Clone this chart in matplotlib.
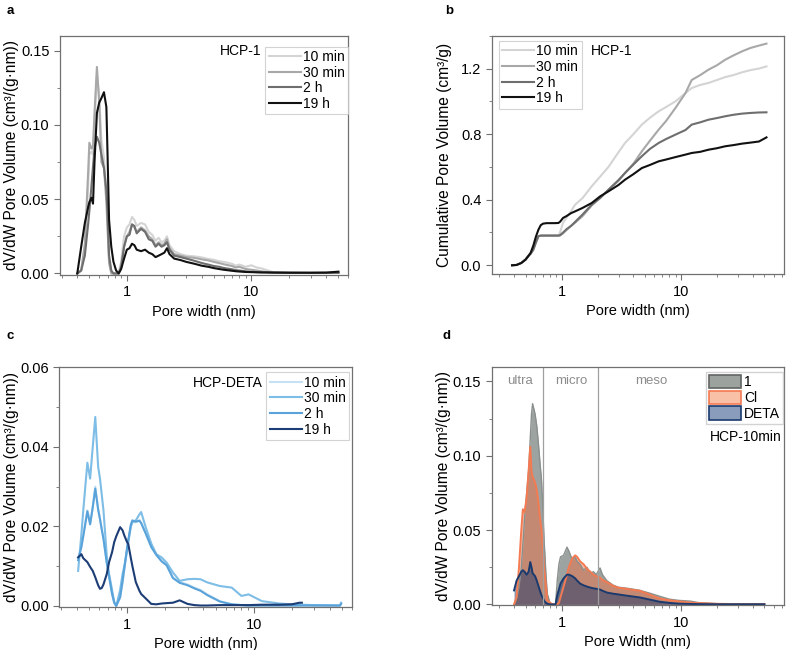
import numpy as np
import matplotlib
matplotlib.use("Agg")
import matplotlib.pyplot as plt
from matplotlib.ticker import LogLocator, NullFormatter, MultipleLocator

plt.rcParams['font.family'] = ['Liberation Sans', 'DejaVu Sans']
plt.rcParams['font.size'] = 10

# ---- panel a: HCP-1 pore size distribution ----
widths_a = [0.40, 0.43, 0.46, 0.49, 0.50, 0.52, 0.535, 0.55, 0.575, 0.60, 0.625, 0.655,
            0.685, 0.70, 0.72, 0.75, 0.78, 0.82, 0.86, 0.90, 0.95, 1.0, 1.05, 1.1, 1.15,
            1.2, 1.3, 1.4, 1.5, 1.6, 1.7, 1.8, 1.9, 2.0, 2.1, 2.2, 2.4, 2.7, 3.0, 3.5,
            4.0, 4.5, 5.0, 5.5, 6.0, 7.0, 7.5, 8.0, 9.0, 10, 11, 12, 13, 15, 20, 30, 40, 50]
a_10min = [0, 0.002, 0.016, 0.060, 0.080, 0.082, 0.080, 0.100, 0.134, 0.120, 0.090, 0.078,
           0.055, 0.035, 0.010, 0.001, 0, 0, 0, 0.008, 0.025, 0.031, 0.033, 0.038, 0.036,
           0.032, 0.034, 0.033, 0.028, 0.026, 0.022, 0.024, 0.021, 0.022, 0.025, 0.019,
           0.015, 0.013, 0.012, 0.0115, 0.0108, 0.0098, 0.0092, 0.0082, 0.0078, 0.0065,
           0.0052, 0.0060, 0.0045, 0.0055, 0.0040, 0.0035, 0.0025, 0.0008, 0.0005, 0.0004,
           0.0004, 0.0004]
a_30min = [0, 0.002, 0.020, 0.070, 0.088, 0.084, 0.086, 0.108, 0.139, 0.115, 0.075, 0.071,
           0.048, 0.030, 0.007, 0, 0, 0, 0, 0.006, 0.018, 0.025, 0.028, 0.033, 0.031,
           0.028, 0.031, 0.029, 0.025, 0.023, 0.019, 0.021, 0.019, 0.020, 0.023, 0.017,
           0.013, 0.012, 0.011, 0.0105, 0.0095, 0.0088, 0.0078, 0.0070, 0.0062, 0.0050,
           0.0040, 0.0045, 0.0030, 0.0025, 0.0020, 0.0015, 0.0010, 0.0007, 0.0005, 0.0004,
           0.0004, 0.0004]
a_2h = [0, 0.002, 0.012, 0.034, 0.042, 0.059, 0.072, 0.084, 0.092, 0.088, 0.080, 0.071,
        0.056, 0.040, 0.012, 0.002, 0, 0, 0, 0.004, 0.018, 0.025, 0.026, 0.033, 0.032,
        0.027, 0.030, 0.028, 0.023, 0.022, 0.018, 0.020, 0.018, 0.019, 0.021, 0.016,
        0.012, 0.011, 0.010, 0.0085, 0.0070, 0.0060, 0.0050, 0.0045, 0.0037, 0.0028,
        0.0022, 0.0020, 0.0014, 0.0011, 0.0009, 0.0008, 0.0007, 0.0006, 0.0005, 0.0004,
        0.0004, 0.0004]
a_19h = [0, 0.018, 0.034, 0.045, 0.048, 0.051, 0.047, 0.075, 0.108, 0.115, 0.118, 0.122,
         0.112, 0.080, 0.036, 0.018, 0.008, 0.002, 0, 0.003, 0.010, 0.016, 0.017, 0.020,
         0.019, 0.016, 0.015, 0.016, 0.014, 0.013, 0.011, 0.012, 0.013, 0.014, 0.017,
         0.013, 0.010, 0.009, 0.0078, 0.0065, 0.0052, 0.0045, 0.0036, 0.0030, 0.0025,
         0.0018, 0.0015, 0.0013, 0.0010, 0.0009, 0.0008, 0.0007, 0.0007, 0.0006, 0.0005,
         0.0005, 0.0006, 0.0012]

# ---- panel b: HCP-1 cumulative pore volume ----
widths_b = [0.385, 0.42, 0.46, 0.50, 0.525, 0.55, 0.58, 0.61, 0.64, 0.67, 0.70, 0.75, 0.80,
            0.87, 0.94, 0.97, 1.03, 1.1, 1.2, 1.3, 1.5, 1.79, 2.1, 2.47, 3.0, 3.4, 4.0, 4.7,
            5.5, 6.5, 7.5, 9.0, 10.9, 12.3, 14.5, 17, 20, 23.5, 27.5, 32.5, 38, 45, 52]
b_10min = [0, 0.003, 0.015, 0.037, 0.058, 0.075, 0.100, 0.145, 0.178, 0.182, 0.182, 0.182,
           0.182, 0.183, 0.183, 0.200, 0.260, 0.290, 0.330, 0.370, 0.410, 0.482, 0.540,
           0.600, 0.690, 0.746, 0.800, 0.858, 0.900, 0.939, 0.965, 1.000, 1.050, 1.081,
           1.100, 1.112, 1.130, 1.148, 1.160, 1.177, 1.190, 1.200, 1.213]
b_30min = [0, 0.002, 0.014, 0.035, 0.055, 0.070, 0.095, 0.140, 0.177, 0.181, 0.181, 0.181,
           0.181, 0.181, 0.181, 0.182, 0.195, 0.215, 0.240, 0.260, 0.300, 0.365, 0.410,
           0.460, 0.515, 0.563, 0.620, 0.695, 0.760, 0.827, 0.880, 0.960, 1.050, 1.130,
           1.160, 1.193, 1.220, 1.254, 1.280, 1.305, 1.325, 1.340, 1.352]
b_2h = [0, 0.002, 0.014, 0.035, 0.055, 0.070, 0.095, 0.140, 0.177, 0.181, 0.181, 0.181,
        0.181, 0.181, 0.181, 0.183, 0.200, 0.220, 0.240, 0.265, 0.310, 0.370, 0.410, 0.461,
        0.520, 0.563, 0.615, 0.665, 0.710, 0.746, 0.770, 0.797, 0.825, 0.858, 0.872,
        0.888, 0.898, 0.909, 0.918, 0.925, 0.929, 0.932, 0.933]
b_19h = [0, 0.002, 0.014, 0.035, 0.055, 0.075, 0.120, 0.175, 0.217, 0.245, 0.254, 0.257,
         0.257, 0.257, 0.258, 0.265, 0.289, 0.300, 0.318, 0.329, 0.350, 0.380, 0.420,
         0.451, 0.490, 0.522, 0.556, 0.593, 0.612, 0.634, 0.645, 0.660, 0.675, 0.685,
         0.692, 0.705, 0.714, 0.726, 0.733, 0.742, 0.748, 0.755, 0.780]

# ---- panel c: HCP-DETA pore size distribution ----
widths_c = [0.41, 0.435, 0.45, 0.485, 0.51, 0.535, 0.56, 0.59, 0.61, 0.63, 0.65, 0.69, 0.72,
            0.76, 0.79, 0.82, 0.88, 0.92, 0.95, 1.0, 1.02, 1.07, 1.1, 1.17, 1.25, 1.29,
            1.41, 1.55, 1.7, 1.87, 2.05, 2.3, 2.6, 3.0, 3.4, 3.8, 4.3, 5.4, 6.7, 8.0, 9.1,
            11.6, 16, 20, 23, 24, 30, 48, 49]
c_10min = [0.012, 0.015, 0.0177, 0.024, 0.0207, 0.025, 0.030, 0.0245, 0.022, 0.0194, 0.017,
           0.011, 0.0075, 0.0032, 0.001, 0, 0.002, 0.0058, 0.009, 0.0143, 0.016, 0.020,
           0.0212, 0.021, 0.0216, 0.021, 0.0182, 0.015, 0.013, 0.0115, 0.0105, 0.0071,
           0.0060, 0.0054, 0.0046, 0.0040, 0.0029, 0.0012, 0.0004, 0.0002, 0.0001, 0.0001,
           0.0001, 0.0001, 0.0001, 0.0001, 0.0001, 0.0001, 0.0006]
c_30min = [0.0088, 0.018, 0.024, 0.036, 0.032, 0.040, 0.0475, 0.035, 0.032, 0.028, 0.024,
           0.0126, 0.008, 0.004, 0.001, 0, 0.004, 0.008, 0.010, 0.014, 0.016, 0.020, 0.021,
           0.0215, 0.023, 0.0236, 0.0195, 0.0157, 0.013, 0.0122, 0.0109, 0.0084, 0.0063,
           0.0067, 0.0068, 0.0067, 0.0059, 0.0050, 0.0046, 0.0025, 0.0029, 0.0012, 0.0006,
           0.0004, 0.0003, 0.0003, 0.0002, 0.0001, 0.0008]
c_2h = [0.0115, 0.0148, 0.0175, 0.0238, 0.0205, 0.0248, 0.0295, 0.0242, 0.0218, 0.0192,
        0.0168, 0.0108, 0.0073, 0.0030, 0.0008, 0, 0.0022, 0.0062, 0.0095, 0.0148, 0.0165,
        0.0205, 0.0215, 0.0212, 0.0214, 0.0208, 0.0180, 0.0148, 0.0128, 0.0112, 0.0102,
        0.0070, 0.0058, 0.0052, 0.0044, 0.0038, 0.0027, 0.0011, 0.0004, 0.0002, 0.0001,
        0.0001, 0.0001, 0.0001, 0.0001, 0.0001, 0.0001, 0.0001, 0.0005]
c_19h = [0.0122, 0.013, 0.012, 0.011, 0.0098, 0.0088, 0.0072, 0.0052, 0.0043, 0.0045,
         0.0054, 0.008, 0.011, 0.0135, 0.016, 0.0175, 0.0198, 0.019, 0.0177, 0.016, 0.0156,
         0.012, 0.010, 0.006, 0.0038, 0.003, 0.0018, 0.0005, 0.0004, 0.0006, 0.0007,
         0.0008, 0.0014, 0.0005, 0.0002, 0.0001, 0.0001, 0.0002, 0.0002, 0.0002, 0.0002,
         0.0003, 0.0003, 0.0004, 0.0008, 0.0008, np.nan, np.nan, np.nan]

# ---- panel d: HCP-10min comparison ----
widths_d = [0.40, 0.42, 0.44, 0.46, 0.474, 0.49, 0.51, 0.53, 0.547, 0.56, 0.572, 0.60, 0.62,
            0.637, 0.66, 0.68, 0.70, 0.714, 0.74, 0.76, 0.80, 0.85, 0.89, 0.92, 0.95, 0.98,
            1.04, 1.11, 1.15, 1.23, 1.30, 1.35, 1.43, 1.53, 1.63, 1.74, 1.85, 1.95, 2.1,
            2.2, 2.39, 2.7, 3.0, 3.3, 3.8, 4.5, 5.5, 6.6, 8.0, 9.6, 12, 14, 20, 30, 50]
d_1 = [0, 0.004, 0.012, 0.025, 0.040, 0.058, 0.075, 0.090, 0.112, 0.128, 0.135, 0.128,
       0.120, 0.110, 0.095, 0.083, 0.060, 0.043, 0.020, 0.007, 0.001, 0, 0, 0.016, 0.027,
       0.032, 0.033, 0.0385, 0.036, 0.030, 0.032, 0.029, 0.027, 0.023, 0.025, 0.021, 0.022,
       0.020, 0.0245, 0.020, 0.016, 0.013, 0.0115, 0.0112, 0.0105, 0.0095, 0.0075, 0.0055,
       0.0035, 0.0027, 0.0022, 0.0012, 0.0005, 0.0003, 0.0002]
d_cl = [0, 0.005, 0.025, 0.050, 0.064, 0.062, 0.072, 0.090, 0.106, 0.090, 0.086, 0.082,
        0.077, 0.070, 0.058, 0.050, 0.035, 0.025, 0.012, 0.003, 0.001, 0, 0, 0, 0.001,
        0.005, 0.012, 0.020, 0.025, 0.031, 0.033, 0.032, 0.029, 0.027, 0.024, 0.022, 0.020,
        0.019, 0.018, 0.0165, 0.015, 0.0125, 0.0112, 0.0108, 0.0100, 0.0092, 0.0065,
        0.0040, 0.0028, 0.0020, 0.0012, 0.0009, 0.0004, 0.0002, 0.0001]
d_deta = [0.0094, 0.016, 0.019, 0.022, 0.023, 0.022, 0.020, 0.022, 0.0285, 0.025, 0.021,
          0.019, 0.016, 0.013, 0.009, 0.006, 0.004, 0.0025, 0.001, 0.0005, 0, 0, 0, 0.006,
          0.010, 0.014, 0.0175, 0.020, 0.020, 0.019, 0.0175, 0.016, 0.014, 0.0128, 0.012,
          0.0113, 0.0108, 0.0105, 0.0100, 0.0092, 0.0080, 0.0072, 0.0067, 0.0062, 0.0055,
          0.0047, 0.0032, 0.0018, 0.0010, 0.0005, 0.0003, 0.0002, 0.0001, 0.0001, 0.0001]

labels_time = ['10 min', '30 min', '2 h', '19 h']
grays = ['#d4d4d4', '#a8a8a8', '#6e6e6e', '#111111']
blues = ['#c6e0f4', '#7dbde6', '#5aa3da', '#1c3d75']
spine_c = '#707070'


def style_axes(ax, xlim):
    ax.set_xscale('log')
    ax.set_xlim(*xlim)
    ax.set_xticks([1, 10])
    ax.set_xticklabels(['1', '10'])
    ax.xaxis.set_minor_locator(LogLocator(base=10, subs=np.arange(2, 10)))
    ax.xaxis.set_minor_formatter(NullFormatter())
    for s in ax.spines.values():
        s.set_color(spine_c)
        s.set_linewidth(0.9)
    ax.tick_params(which='both', direction='out', color=spine_c, top=False, right=False,
                   labelsize=10.5)
    ax.tick_params(which='major', length=4)
    ax.tick_params(which='minor', length=2)


def time_legend(ax, **kw):
    leg = ax.legend(frameon=True, fancybox=False, handlelength=2.3, handletextpad=0.15,
                    labelspacing=0.12, borderpad=0.25, borderaxespad=0, fontsize=10, **kw)
    leg.get_frame().set_edgecolor('#c8c8c8')
    leg.get_frame().set_linewidth(0.8)


fig = plt.figure(figsize=(7.88, 6.5), dpi=100)
ax_a = fig.add_axes([0.076, 0.577, 0.366, 0.368])
ax_b = fig.add_axes([0.624, 0.578, 0.371, 0.367])
ax_c = fig.add_axes([0.075, 0.066, 0.372, 0.369])
ax_d = fig.add_axes([0.624, 0.069, 0.371, 0.366])

ylab_fs = 11.2
xlab_fs = 10.5

# a
for y, c, lab in zip([a_10min, a_30min, a_2h, a_19h], grays, labels_time):
    ax_a.plot(widths_a, y, color=c, lw=1.5, label=lab)
style_axes(ax_a, (0.29, 60))
ax_a.set_ylim(-0.001, 0.160)
ax_a.yaxis.set_major_locator(MultipleLocator(0.05))
ax_a.yaxis.set_minor_locator(MultipleLocator(0.025))
ax_a.yaxis.set_major_formatter(plt.FormatStrFormatter('%.2f'))
ax_a.set_xlabel('Pore width (nm)', fontsize=xlab_fs)
ax_a.set_ylabel('dV/dW Pore Volume (cm³/(g·nm))', fontsize=ylab_fs, labelpad=1)
time_legend(ax_a, loc='upper right', bbox_to_anchor=(1.0, 0.955))
ax_a.text(0.555, 0.935, 'HCP-1', transform=ax_a.transAxes, ha='left', va='center', fontsize=10)

# b
for y, c, lab in zip([b_10min, b_30min, b_2h, b_19h], grays, labels_time):
    ax_b.plot(widths_b, y, color=c, lw=1.5, label=lab)
style_axes(ax_b, (0.26, 73))
ax_b.set_ylim(-0.055, 1.40)
ax_b.yaxis.set_major_locator(MultipleLocator(0.4))
ax_b.yaxis.set_minor_locator(MultipleLocator(0.2))
ax_b.yaxis.set_major_formatter(plt.FormatStrFormatter('%.1f'))
ax_b.set_xlabel('Pore width (nm)', fontsize=xlab_fs)
ax_b.set_ylabel('Cumulative Pore Volume (cm³/g)', fontsize=ylab_fs, labelpad=6)
time_legend(ax_b, loc='upper left', bbox_to_anchor=(0.024, 0.979))
ax_b.text(0.34, 0.935, 'HCP-1', transform=ax_b.transAxes, ha='left', va='center', fontsize=10)

# c
for y, c, lab in zip([c_10min, c_30min, c_2h, c_19h], blues, labels_time):
    ax_c.plot(widths_c, y, color=c, lw=1.5, label=lab)
style_axes(ax_c, (0.29, 60))
ax_c.set_ylim(-0.0003, 0.060)
ax_c.yaxis.set_major_locator(MultipleLocator(0.02))
ax_c.yaxis.set_minor_locator(MultipleLocator(0.01))
ax_c.yaxis.set_major_formatter(plt.FormatStrFormatter('%.2f'))
ax_c.set_xlabel('Pore width (nm)', fontsize=xlab_fs)
ax_c.set_ylabel('dV/dW Pore Volume (cm³/(g·nm))', fontsize=ylab_fs, labelpad=1)
time_legend(ax_c, loc='upper right', bbox_to_anchor=(0.99, 0.98))
ax_c.text(0.455, 0.935, 'HCP-DETA', transform=ax_c.transAxes, ha='left', va='center', fontsize=10)

# d
ax_d.fill_between(widths_d, d_1, color='#7d8581', alpha=0.75, lw=0)
ax_d.plot(widths_d, d_1, color='#8a908c', lw=1.0)
ax_d.fill_between(widths_d, d_cl, color='#f26a3c', alpha=0.45, lw=0)
ax_d.plot(widths_d, d_cl, color='#f47a52', lw=1.4)
ax_d.fill_between(widths_d, d_deta, color='#2a3f70', alpha=0.55, lw=0)
ax_d.plot(widths_d, d_deta, color='#1a3a6e', lw=1.4)
ax_d.axvline(0.7, color='#a0a0a0', lw=0.9)
ax_d.axvline(2.0, color='#a0a0a0', lw=0.9)
ax_d.text(0.45, 0.150, 'ultra', color='#8c8c8c', ha='center', va='center', fontsize=9.5)
ax_d.text(1.21, 0.150, 'micro', color='#8c8c8c', ha='center', va='center', fontsize=9.5)
ax_d.text(5.65, 0.150, 'meso', color='#8c8c8c', ha='center', va='center', fontsize=9.5)
style_axes(ax_d, (0.26, 73))
ax_d.set_ylim(-0.0005, 0.1595)
ax_d.yaxis.set_major_locator(MultipleLocator(0.05))
ax_d.yaxis.set_minor_locator(MultipleLocator(0.025))
ax_d.yaxis.set_major_formatter(plt.FormatStrFormatter('%.2f'))
ax_d.set_xlabel('Pore Width (nm)', fontsize=xlab_fs)
ax_d.set_ylabel('dV/dW Pore Volume (cm³/(g·nm))', fontsize=ylab_fs, labelpad=1)
handles = [plt.Rectangle((0, 0), 1, 1, facecolor='#9ca29e', edgecolor='#606462', lw=1.2),
           plt.Rectangle((0, 0), 1, 1, facecolor='#f9c0a8', edgecolor='#f47a52', lw=1.2),
           plt.Rectangle((0, 0), 1, 1, facecolor='#8a9cbc', edgecolor='#1a3a6e', lw=1.2)]
leg = ax_d.legend(handles, ['1', 'Cl', 'DETA'], loc='upper right', bbox_to_anchor=(0.995, 0.98),
                  frameon=True, fancybox=False, handlelength=2.3, handleheight=1.1,
                  handletextpad=0.2, labelspacing=0.1, borderpad=0.2, borderaxespad=0,
                  fontsize=10)
leg.get_frame().set_edgecolor('#c8c8c8')
ax_d.text(0.745, 0.705, 'HCP-10min', transform=ax_d.transAxes, ha='left', va='center', fontsize=10)

for lab, x, y in [('a', 0.008, 0.992), ('b', 0.565, 0.992), ('c', 0.008, 0.492), ('d', 0.561, 0.492)]:
    fig.text(x, y, lab, fontweight='bold', fontsize=9.5, ha='left', va='top')

fig.savefig('out.png', dpi=100)
